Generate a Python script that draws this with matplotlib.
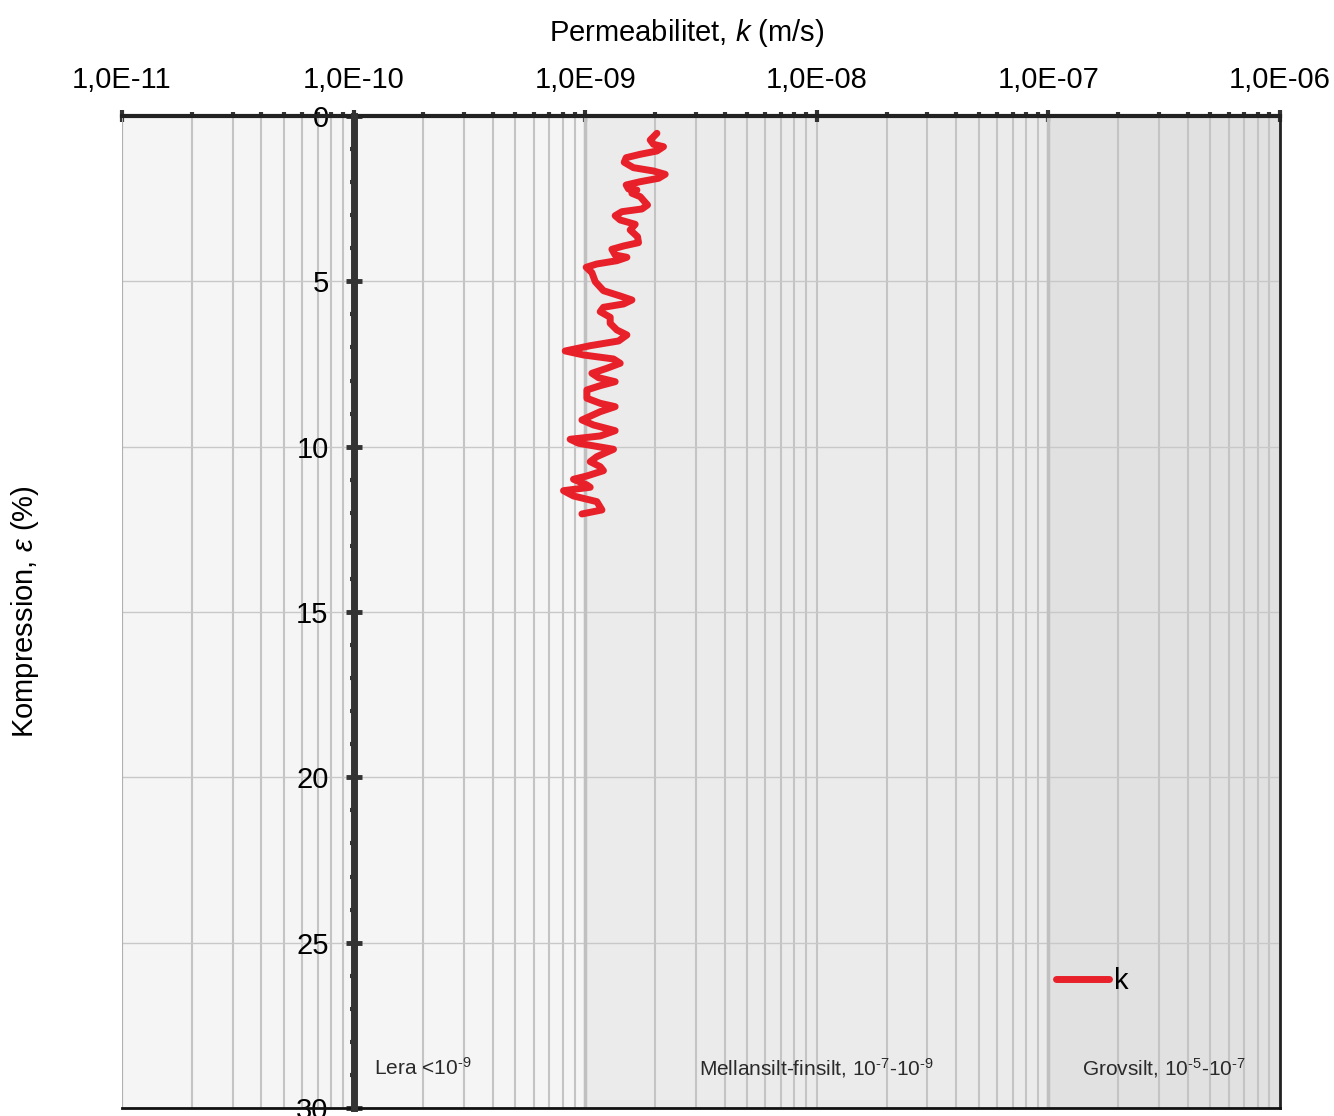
import numpy as np
import matplotlib.pyplot as plt
from matplotlib.ticker import LogLocator, NullFormatter

plt.rcParams['font.family'] = ['Liberation Sans', 'DejaVu Sans']
plt.rcParams['mathtext.fontset'] = 'custom'
plt.rcParams['mathtext.rm'] = 'Liberation Sans'
plt.rcParams['mathtext.it'] = 'Liberation Sans:italic'

# Permeabilitet k (m/s) mot kompression eps (%)
k_values = [2.040e-9, 1.909e-9, 1.972e-9, 2.178e-9, 2.040e-9, 1.728e-9, 1.503e-9, 1.474e-9,
            1.616e-9, 1.972e-9, 2.215e-9, 2.073e-9, 1.728e-9, 1.503e-9, 1.538e-9, 1.672e-9,
            1.591e-9, 1.728e-9, 1.858e-9, 1.757e-9, 1.440e-9, 1.347e-9, 1.416e-9, 1.644e-9,
            1.564e-9, 1.682e-9, 1.699e-9, 1.464e-9, 1.304e-9, 1.347e-9, 1.514e-9, 1.370e-9,
            1.123e-9, 1.010e-9, 1.069e-9, 1.105e-9, 1.199e-9, 1.416e-9, 1.591e-9, 1.464e-9,
            1.199e-9, 1.161e-9, 1.282e-9, 1.282e-9, 1.370e-9, 1.514e-9, 1.393e-9, 1.051e-9,
            0.820e-9, 0.983e-9, 1.325e-9, 1.416e-9, 1.241e-9, 1.069e-9, 1.141e-9, 1.347e-9,
            1.161e-9, 1.017e-9, 1.017e-9, 1.161e-9, 1.347e-9, 1.161e-9, 0.968e-9, 1.086e-9,
            1.347e-9, 1.161e-9, 0.861e-9, 0.936e-9, 1.325e-9, 1.123e-9, 1.051e-9, 1.161e-9,
            1.199e-9, 1.017e-9, 0.890e-9, 1.017e-9, 1.051e-9, 0.806e-9, 0.890e-9, 1.123e-9,
            1.181e-9, 0.968e-9]
eps_values = [0.523, 0.726, 0.856, 0.928, 1.058, 1.158, 1.261, 1.400,
              1.563, 1.663, 1.763, 1.884, 1.987, 2.086, 2.207, 2.238,
              2.337, 2.440, 2.691, 2.812, 2.894, 3.015, 3.145, 3.275,
              3.447, 3.650, 3.831, 3.931, 4.031, 4.203, 4.273, 4.376,
              4.475, 4.575, 4.738, 5.011, 5.283, 5.443, 5.564, 5.685,
              5.785, 5.918, 6.087, 6.269, 6.471, 6.622, 6.804, 6.946,
              7.106, 7.227, 7.348, 7.478, 7.629, 7.781, 7.913, 8.035,
              8.155, 8.285, 8.536, 8.688, 8.790, 8.942, 9.193, 9.344,
              9.516, 9.676, 9.776, 9.897, 10.079, 10.302, 10.454, 10.605,
              10.726, 10.886, 10.986, 11.158, 11.228, 11.331, 11.491, 11.663,
              11.914, 12.035]

x_ticks = [1e-11, 1e-10, 1e-9, 1e-8, 1e-7, 1e-6]
x_tick_labels = ['1,0E-11', '1,0E-10', '1,0E-09', '1,0E-08', '1,0E-07', '1,0E-06']
y_ticks = [0, 5, 10, 15, 20, 25, 30]

# jordartszoner
zones = [(1e-11, 1e-9, '#f5f5f5'), (1e-9, 1e-7, '#ebebeb'), (1e-7, 1e-6, '#e1e1e1')]
zone_labels = [(1.22e-10, 'left', 'Lera <10$^{\\text{-9}}$'),
               (1e-8, 'center', 'Mellansilt-finsilt, 10$^{\\text{-7}}$-10$^{\\text{-9}}$'),
               (3.16e-7, 'center', 'Grovsilt, 10$^{\\text{-5}}$-10$^{\\text{-7}}$')]

fig = plt.figure(figsize=(13.34, 11.16), dpi=100)
ax = fig.add_axes([122/1334, 8/1116, 1158/1334, 992/1116])

for x0, x1, c in zones:
    ax.axvspan(x0, x1, color=c, zorder=0, lw=0)
ax.axvline(1e-9, color='#c0c0c0', lw=2.5, zorder=0.6)
ax.axvline(1e-7, color='#c0c0c0', lw=2.5, zorder=0.6)
ax.axvline(1e-11, color='#b0b0b0', lw=1.5, zorder=0.6)

ax.plot(k_values, eps_values, color='#e8202a', lw=5, solid_joinstyle='round',
        solid_capstyle='round', label='k', zorder=3)

ax.set_xscale('log')
ax.set_xlim(1e-11, 1e-6)
ax.set_ylim(30, 0)

ax.xaxis.tick_top()
ax.xaxis.set_label_position('top')
ax.set_xticks(x_ticks, x_tick_labels)
ax.xaxis.set_minor_locator(LogLocator(base=10, subs=np.arange(2, 10)))
ax.xaxis.set_minor_formatter(NullFormatter())
ax.set_yticks(y_ticks)
ax.set_yticks(np.arange(0, 31, 1), minor=True)

ax.set_axisbelow(True)
ax.grid(True, which='both', axis='x', color='#c4c4c4', lw=1.5)
ax.grid(True, which='major', axis='y', color='#c8c8c8', lw=1.0)

ax.spines['left'].set_position(('data', 1e-10))
ax.spines['left'].set_color('#333333')
ax.spines['left'].set_linewidth(5)
ax.spines['left'].set_zorder(4)
ax.spines['top'].set_color('#222222')
ax.spines['top'].set_linewidth(3)
ax.spines['right'].set_color('#222222')
ax.spines['right'].set_linewidth(2)
ax.spines['bottom'].set_color('#111111')
ax.spines['bottom'].set_linewidth(2)

ax.tick_params(axis='x', which='major', direction='inout', length=9, width=3,
               color='#333333', labelsize=21, pad=11)
ax.tick_params(axis='x', which='minor', direction='out', length=3, width=3,
               color='#333333')
ax.tick_params(axis='y', which='major', direction='inout', length=12, width=3.5,
               color='#333333', labelsize=21, pad=12)
ax.tick_params(axis='y', which='minor', direction='out', length=3, width=3,
               color='#333333')

ax.set_xlabel('Permeabilitet, $\\it{k}$ (m/s)', fontsize=21, labelpad=18)
ax.xaxis.label.set_x(0.488)
ax.set_ylabel('Kompression, $\\varepsilon$ (%)', fontsize=21)
ax.yaxis.set_label_coords(-0.07, 0.5)

for x, ha, txt in zone_labels:
    ax.text(x, 28.8, txt, ha=ha, va='center', fontsize=15, color='#2a2a2a')

ax.legend(loc='center left', bbox_to_anchor=(0.8066, 0.128), frameon=False,
          fontsize=21, handlelength=1.8, handletextpad=0.2, borderpad=0,
          borderaxespad=0)

fig.savefig('out.png', dpi=100)
